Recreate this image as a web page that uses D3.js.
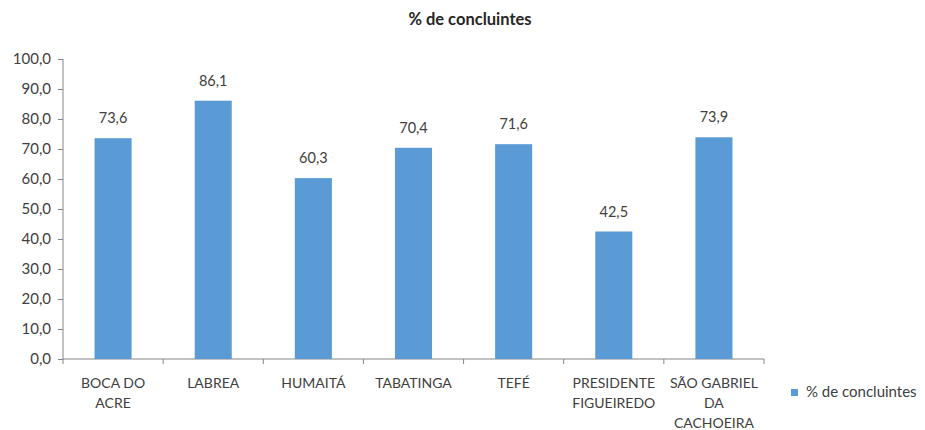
<!DOCTYPE html>
<html>
<head>
<meta charset="utf-8">
<script src="https://cdn.jsdelivr.net/npm/d3@7"></script>
<style>
  body { margin: 0; background: #fff; }
  text { font-family: Lato, "Open Sans", sans-serif; fill: #404040; }
</style>
</head>
<body>
<div id="chart"></div>
<script>
// data
let categories = [["BOCA DO", "ACRE"], ["LABREA"], ["HUMAITÁ"], ["TABATINGA"], ["TEFÉ"],
                  ["PRESIDENTE", "FIGUEIREDO"], ["SÃO GABRIEL", "DA", "CACHOEIRA"]]
let values = [73.6, 86.1, 60.3, 70.4, 71.6, 42.5, 73.9]
let yTicks = [0, 10, 20, 30, 40, 50, 60, 70, 80, 90, 100]
let seriesName = "% de concluintes"

let svg = d3.select("#chart").append("svg").attr("width", 925).attr("height", 430);
let plotLeft = 63, plotRight = 764, plotTop = 59, plotBottom = 359;

let keys = categories.map(c => c.join(" "));
let x = d3.scaleBand().domain(keys).range([plotLeft, plotRight]).paddingInner(0.63).paddingOuter(0.315);
let xTicks = d3.scaleBand().domain(keys).range([plotLeft, plotRight]);
let y = d3.scaleLinear().domain([0, 100]).range([plotBottom, plotTop]);

// title
svg.append("text").attr("x", 470).attr("y", 25).attr("text-anchor", "middle")
  .attr("font-size", 16.5).attr("font-weight", "bold").style("fill", "#262626").text(seriesName);

// y axis
let yAxis = svg.append("g").attr("transform", "translate(" + plotLeft + ",0)")
  .call(d3.axisLeft(y).tickValues(yTicks).tickSize(5).tickPadding(7)
    .tickFormat(d => d3.format(".1f")(d).replace(".", ",")));
yAxis.select(".domain").attr("stroke", "#868686").attr("d", "M0," + plotTop + "V" + plotBottom);
yAxis.selectAll(".tick line").attr("stroke", "#868686");
yAxis.selectAll(".tick text").attr("font-size", 15).style("font-family", "Lato, sans-serif").style("fill", "#404040");

// x axis line + ticks at band edges
let xg = svg.append("g");
xg.append("line").attr("x1", plotLeft).attr("x2", plotRight).attr("y1", plotBottom).attr("y2", plotBottom).attr("stroke", "#868686");
keys.forEach(function (k, i) {
  let xe = xTicks(k);
  xg.append("line").attr("x1", xe).attr("x2", xe).attr("y1", plotBottom).attr("y2", plotBottom + 5).attr("stroke", "#868686");
  if (i == keys.length - 1) {
    let xr = xe + xTicks.bandwidth();
    xg.append("line").attr("x1", xr).attr("x2", xr).attr("y1", plotBottom).attr("y2", plotBottom + 5).attr("stroke", "#868686");
  }
  let t = xg.append("text").attr("text-anchor", "middle").attr("font-size", 14);
  categories[i].forEach(function (line, j) {
    t.append("tspan").attr("x", xTicks(k) + xTicks.bandwidth() / 2).attr("y", 388 + j * 20).text(line);
  });
});

// bars
svg.append("g").selectAll("rect").data(values).join("rect")
  .attr("x", (d, i) => x(keys[i]))
  .attr("width", x.bandwidth())
  .attr("y", d => y(d))
  .attr("height", d => plotBottom - y(d))
  .attr("fill", "#5B9BD5");

// value labels
svg.append("g").selectAll("text").data(values).join("text")
  .attr("x", (d, i) => x(keys[i]) + x.bandwidth() / 2)
  .attr("y", d => y(d) - 15)
  .attr("text-anchor", "middle").attr("font-size", 14.5)
  .text(d => d3.format(".1f")(d).replace(".", ","));

// legend
svg.append("rect").attr("x", 791).attr("y", 389).attr("width", 7).attr("height", 7).attr("fill", "#5B9BD5");
svg.append("text").attr("x", 806).attr("y", 397).attr("font-size", 15).text(seriesName);
</script>
</body>
</html>
